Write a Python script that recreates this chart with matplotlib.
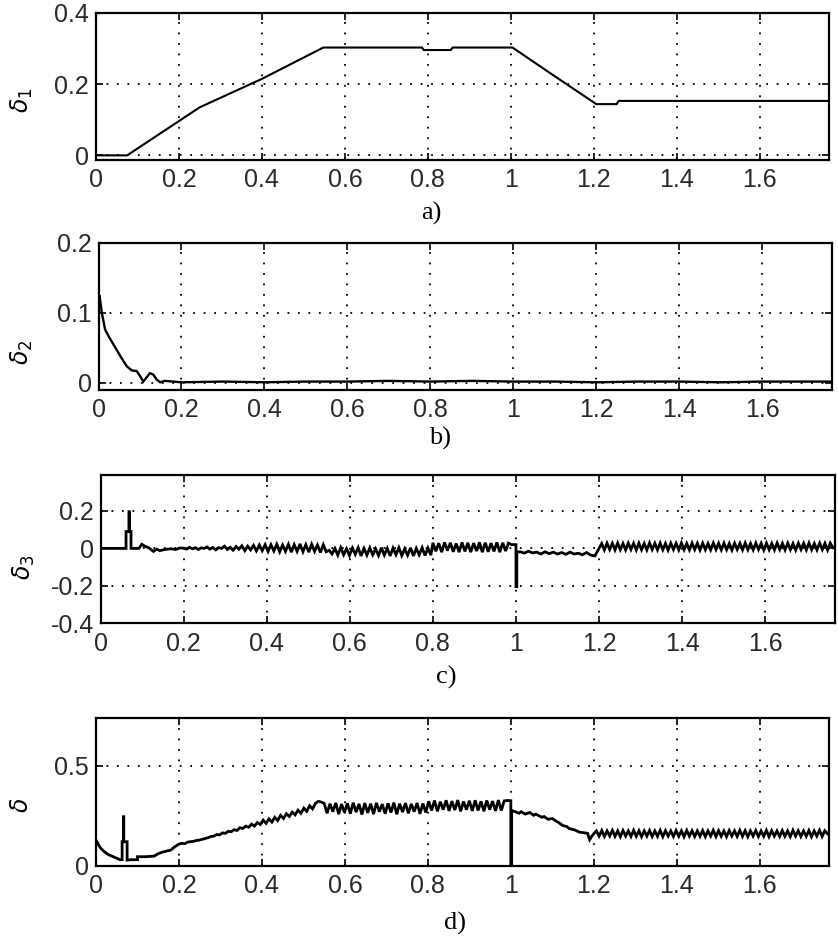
import numpy as np
import matplotlib
matplotlib.use("Agg")
import matplotlib.pyplot as plt

# ---------------- data ----------------
XMAX = 1.767
xticks = [0, 0.2, 0.4, 0.6, 0.8, 1.0, 1.2, 1.4, 1.6]
xtick_labels = ["0", "0.2", "0.4", "0.6", "0.8", "1", "1.2", "1.4", "1.6"]

# a) delta_1
t_a = [0, 0.075, 0.25, 0.40, 0.548, 0.786, 0.79, 0.855, 0.86, 1.004, 1.10, 1.206, 1.255, 1.26, 1.767]
v_a = [0, 0, 0.135, 0.215, 0.303, 0.303, 0.296, 0.296, 0.303, 0.303, 0.227, 0.144, 0.144, 0.153, 0.153]
yticks_a = [0, 0.2, 0.4]
ytick_labels_a = ["0", "0.2", "0.4"]

# b) delta_2
t_b = [0, 0.002, 0.004, 0.008, 0.012, 0.016, 0.025, 0.035, 0.044, 0.055, 0.068, 0.08, 0.092,
       0.1, 0.108, 0.116, 0.124, 0.132, 0.14, 0.149, 0.16, 0.2, 0.3, 0.4, 0.5, 0.6, 0.7, 0.8,
       0.9, 1.0, 1.1, 1.2, 1.3, 1.4, 1.5, 1.6, 1.7, 1.767]
v_b = [0.095, 0.125, 0.118, 0.100, 0.088, 0.076, 0.066, 0.056, 0.047, 0.036, 0.024, 0.018, 0.017,
       0.010, 0.002, 0.008, 0.014, 0.012, 0.005, 0.001, 0.003, 0.001, 0.002, 0.001, 0.002, 0.002,
       0.003, 0.002, 0.003, 0.002, 0.002, 0.001, 0.002, 0.002, 0.001, 0.002, 0.002, 0.002]
yticks_b = [0, 0.1, 0.2]
ytick_labels_b = ["0", "0.1", "0.2"]

# c) delta_3
t_c1 = [0, 0.061, 0.061, 0.068, 0.068, 0.069, 0.069, 0.073, 0.073, 0.092, 0.099, 0.106, 0.115,
        0.127, 0.135, 0.142, 0.15, 0.16, 0.17, 0.18, 0.19]
v_c1 = [0, 0, 0.09, 0.09, 0.196, 0.196, 0.09, 0.09, 0, 0, 0.022, 0.012, 0.004,
        -0.016, -0.004, -0.012, -0.008, -0.004, -0.002, -0.006, 0.002]
c2_start, c2_step = 0.20, 0.007
v_c2 = [0.002, -0.004, 0.006, -0.002, 0.004, -0.006, 0.003, 0.0, 0.008, -0.004,
        0.005, -0.008, 0.004, 0.0, 0.012, -0.006, 0.006, -0.010, 0.010, -0.004,
        0.014, -0.012, 0.012, -0.008, 0.016, -0.014, 0.018, -0.012, 0.020, -0.016,
        0.020, -0.014, 0.022, -0.018, 0.018, -0.016, 0.022, -0.020, 0.020, -0.016,
        0.024, -0.018, 0.020, -0.020, 0.022, -0.016, 0.018, -0.022, 0.020, -0.018]
c3_start, c3_step = 0.55, 0.007
v_c3 = [-0.010, -0.030, 0.000, -0.036, 0.004, -0.034, -0.002, -0.038, 0.002, -0.032,
        0.004, -0.040, 0.000, -0.036, 0.003, -0.034, -0.002, -0.038, 0.004, -0.036,
        0.000, -0.040, 0.002, -0.034, 0.004, -0.038, -0.002, -0.036, 0.003, -0.040,
        0.000, -0.034, 0.004, -0.038, 0.002, -0.036]
c4_start, c4_step = 0.80, 0.007
v_c4 = [0.030, -0.015, 0.028, -0.020, 0.032, -0.012, 0.030, -0.018, 0.026, -0.020,
        0.032, -0.016, 0.030, -0.020, 0.028, -0.014, 0.032, -0.020, 0.030, -0.018,
        0.028, -0.016, 0.032, -0.020, 0.030, -0.014, 0.028, 0.020]
t_c_spike = [1.0, 1.0, 1.002, 1.002]
v_c_spike = [0.020, -0.204, -0.204, -0.020]
c5_start, c5_step = 1.01, 0.01
v_c5 = [-0.018, -0.025, -0.015, -0.024, -0.020, -0.030, -0.018, -0.028, -0.020, -0.030,
        -0.022, -0.032, -0.020, -0.030, -0.026, -0.034, -0.022, -0.036, -0.040]
c6_start, c6_step = 1.20, 0.0064
v_c6 = [0.000, 0.026, -0.008, 0.028, -0.006, 0.027, -0.008, 0.029, -0.007, 0.026,
        -0.008, 0.028, -0.006, 0.027, -0.009, 0.028, -0.007, 0.026, -0.008, 0.029,
        -0.006, 0.027, -0.008, 0.028, -0.007, 0.026, -0.009, 0.028, -0.006, 0.027,
        -0.008, 0.029, -0.007, 0.026, -0.008, 0.028, -0.006, 0.027, -0.009, 0.028,
        -0.007, 0.026, -0.008, 0.029, -0.006, 0.027, -0.008, 0.028, -0.007, 0.026,
        -0.009, 0.028, -0.006, 0.027, -0.008, 0.029, -0.007, 0.026, -0.008, 0.028,
        -0.006, 0.027, -0.009, 0.028, -0.007, 0.026, -0.008, 0.029, -0.006, 0.027,
        -0.008, 0.028, -0.007, 0.026, -0.009, 0.028, -0.006, 0.027, -0.008, 0.029,
        -0.007, 0.026, -0.008, 0.028, -0.006, 0.027, -0.009, 0.028, 0.004]
yticks_c = [-0.4, -0.2, 0, 0.2]
ytick_labels_c = ["-0.4", "-0.2", "0", "0.2"]

# d) delta
t_d1 = [0, 0.01, 0.02, 0.03, 0.045, 0.058, 0.063, 0.063, 0.066, 0.066, 0.067, 0.067, 0.075,
        0.075, 0.085, 0.1, 0.1, 0.12, 0.14, 0.15, 0.16, 0.18, 0.19]
v_d1 = [0.128, 0.090, 0.070, 0.055, 0.042, 0.030, 0.030, 0.120, 0.120, 0.245, 0.245, 0.120, 0.120,
        0.028, 0.030, 0.030, 0.045, 0.045, 0.048, 0.060, 0.068, 0.078, 0.095]
d2_start, d2_step = 0.20, 0.007
v_d2 = [0.108, 0.112, 0.110, 0.118, 0.120, 0.122, 0.126, 0.128, 0.132, 0.136,
        0.140, 0.146, 0.148, 0.156, 0.154, 0.164, 0.162, 0.172, 0.170, 0.180,
        0.176, 0.190, 0.186, 0.198, 0.192, 0.208, 0.198, 0.216, 0.206, 0.228,
        0.212, 0.234, 0.218, 0.242, 0.226, 0.252, 0.236, 0.260, 0.246, 0.268,
        0.254, 0.278, 0.262, 0.288, 0.272, 0.300, 0.284, 0.312, 0.322, 0.318]
d3_start, d3_step = 0.55, 0.007
v_d3 = [0.312, 0.262, 0.310, 0.270, 0.314, 0.258, 0.308, 0.266, 0.312, 0.260,
        0.315, 0.268, 0.309, 0.256, 0.313, 0.264, 0.310, 0.258, 0.314, 0.270,
        0.308, 0.260, 0.312, 0.266, 0.315, 0.257, 0.310, 0.268, 0.313, 0.262,
        0.309, 0.270, 0.314, 0.259, 0.311, 0.266,
        0.322, 0.276, 0.326, 0.272, 0.320, 0.280, 0.327, 0.274, 0.323, 0.278,
        0.328, 0.272, 0.321, 0.280, 0.325, 0.274, 0.327, 0.276, 0.322, 0.272,
        0.326, 0.280, 0.323, 0.274, 0.328, 0.276, 0.324, 0.326]
t_d_spike = [1.0, 1.0, 1.002, 1.002]
v_d_spike = [0.325, 0.0, 0.0, 0.275]
t_d4 = [1.008, 1.02, 1.025, 1.035, 1.046, 1.055, 1.06, 1.075, 1.08, 1.09, 1.1, 1.11, 1.115,
        1.126, 1.135, 1.14, 1.155, 1.165, 1.175, 1.185, 1.19, 1.196]
v_d4 = [0.272, 0.262, 0.270, 0.258, 0.266, 0.252, 0.258, 0.242, 0.246, 0.232, 0.236, 0.222,
        0.216, 0.200, 0.196, 0.186, 0.178, 0.168, 0.165, 0.162, 0.130, 0.150]
d5_start, d5_step = 1.20, 0.0064
v_d5 = [0.160, 0.174, 0.148, 0.176, 0.146, 0.174, 0.148, 0.177, 0.147, 0.174,
        0.145, 0.176, 0.148, 0.174, 0.146, 0.177, 0.147, 0.175, 0.145, 0.174,
        0.148, 0.176, 0.146, 0.174, 0.147, 0.177, 0.145, 0.175, 0.148, 0.174,
        0.146, 0.176, 0.147, 0.174, 0.145, 0.177, 0.148, 0.175, 0.146, 0.174,
        0.147, 0.176, 0.145, 0.174, 0.148, 0.177, 0.146, 0.175, 0.147, 0.174,
        0.145, 0.176, 0.148, 0.174, 0.146, 0.177, 0.147, 0.175, 0.145, 0.174,
        0.148, 0.176, 0.146, 0.174, 0.147, 0.177, 0.145, 0.175, 0.148, 0.174,
        0.146, 0.176, 0.147, 0.174, 0.145, 0.177, 0.148, 0.175, 0.146, 0.174,
        0.147, 0.176, 0.145, 0.174, 0.148, 0.177, 0.146, 0.175, 0.160]
yticks_d = [0, 0.5]
ytick_labels_d = ["0", "0.5"]

ylabels = [r"$\delta_1$", r"$\delta_2$", r"$\delta_3$", r"$\delta$"]
captions = ["a)", "b)", "c)", "d)"]


def seg(start, step, vals):
    return start + step * np.arange(len(vals)), np.asarray(vals)


# assemble the sampled segments
c_parts = [(np.array(t_c1), np.array(v_c1)), seg(c2_start, c2_step, v_c2),
           seg(c3_start, c3_step, v_c3), seg(c4_start, c4_step, v_c4),
           (np.array(t_c_spike), np.array(v_c_spike)), seg(c5_start, c5_step, v_c5),
           seg(c6_start, c6_step, v_c6)]
t_c = np.concatenate([p[0] for p in c_parts])
v_c = np.concatenate([p[1] for p in c_parts])

d_parts = [(np.array(t_d1), np.array(v_d1)), seg(d2_start, d2_step, v_d2),
           seg(d3_start, d3_step, v_d3), (np.array(t_d_spike), np.array(v_d_spike)),
           (np.array(t_d4), np.array(v_d4)), seg(d5_start, d5_step, v_d5)]
t_d = np.concatenate([p[0] for p in d_parts])
v_d = np.concatenate([p[1] for p in d_parts])

# ---------------- figure ----------------
W, H = 838, 943
fig = plt.figure(figsize=(W / 100, H / 100), dpi=100)
fig.patch.set_facecolor("white")

TICKFONT = ["Liberation Sans", "DejaVu Sans"]

panels = [
    # (left, right, top, bottom) in pixels, ylim, yticks, labels, t, v, linewidth
    ((96, 829, 13, 160), (-0.013, 0.4), yticks_a, ytick_labels_a, t_a, v_a, 1.5),
    ((98.5, 831.5, 242.7, 390), (-0.01, 0.2), yticks_b, ytick_labels_b, t_b, v_b, 1.7),
    ((100.7, 834.5, 475, 623.3), (-0.4, 0.392), yticks_c, ytick_labels_c, t_c, v_c, 2.0),
    ((96, 829, 718.3, 865.7), (0, 0.737), yticks_d, ytick_labels_d, t_d, v_d, 2.0),
]
ylabel_pos = [(22, 100), (22, 352), (24, 567), (21, 805)]
caption_pos = [(431, 213), (440, 438), (446, 677), (455, 923)]

for i, ((l, r, tp, bt), ylim, yt, ytl, tt, vv, lw) in enumerate(panels):
    ax = fig.add_axes([l / W, 1 - bt / H, (r - l) / W, (bt - tp) / H])
    ax.plot(tt, vv, color="black", lw=lw, solid_joinstyle="miter")
    ax.set_xlim(0, XMAX)
    ax.set_ylim(*ylim)
    ax.set_xticks(xticks)
    ax.set_xticklabels(xtick_labels)
    ax.set_yticks(yt)
    ax.set_yticklabels(ytl)
    ax.grid(True, color="black", linestyle=(0, (1, 4.8)), lw=1.3)
    ax.tick_params(direction="in", top=True, right=True, length=5, width=1.2,
                   labelsize=18, colors="black")
    ax.tick_params(axis="x", pad=6)
    ax.tick_params(axis="y", pad=5)
    for lab in ax.get_xticklabels() + ax.get_yticklabels():
        lab.set_family(TICKFONT)
        lab.set_color("#2a2a2a")
    for sp in ax.spines.values():
        sp.set_linewidth(1.6)
        sp.set_color("black")

    lx, ly = ylabel_pos[i]
    fig.text(lx / W, 1 - ly / H, ylabels[i], rotation=90, ha="center", va="center",
             fontsize=17)
    cx, cy = caption_pos[i]
    fig.text(cx / W, 1 - cy / H, captions[i], ha="center", va="center",
             fontsize=19, family=["Liberation Serif", "DejaVu Serif"])

fig.savefig("out.png", dpi=100, facecolor="white")
